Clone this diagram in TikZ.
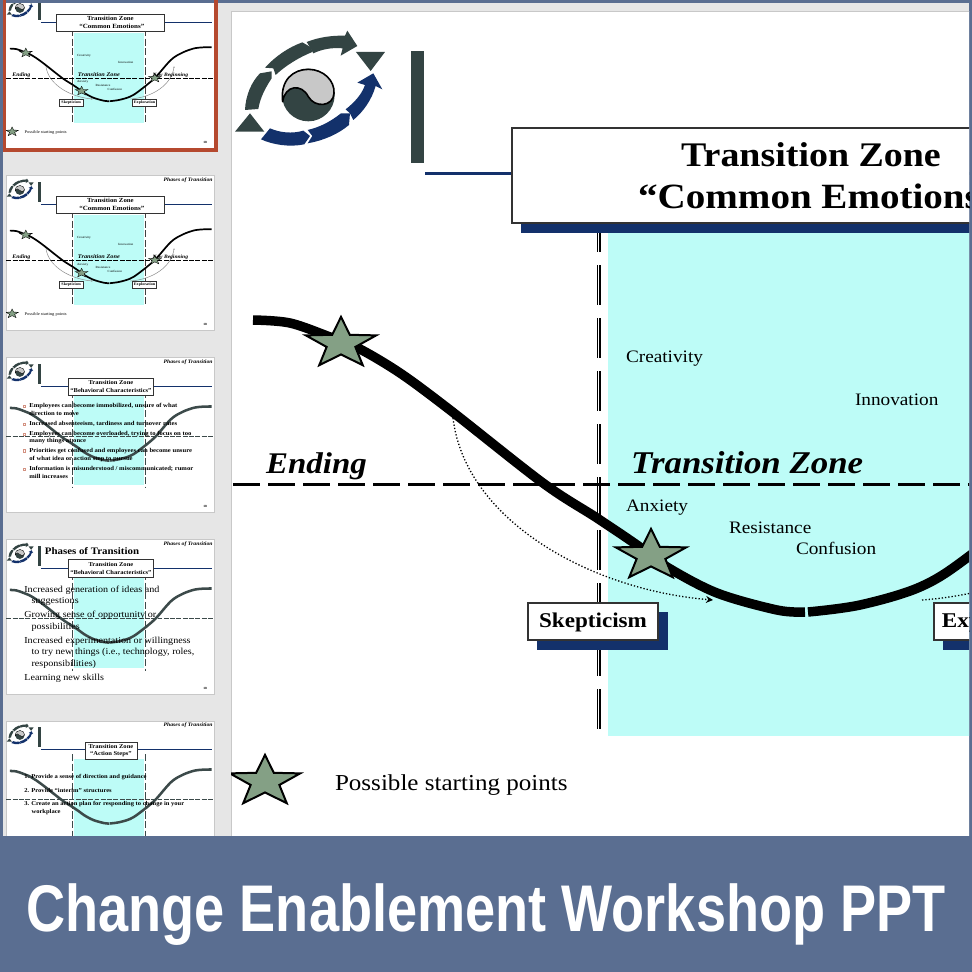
\documentclass[tikz,border=0pt]{standalone}
\usepackage{fontspec}
\setmainfont[FakeStretch=1.1]{Liberation Serif}
\newfontfamily\banfont{Liberation Sans}
\usetikzlibrary{arrows.meta,shapes.geometric}
\definecolor{navyc}{HTML}{13316B}
\definecolor{darkc}{HTML}{334443}
\definecolor{cyanc}{HTML}{BDFCF7}
\definecolor{starc}{HTML}{84A085}
\definecolor{blueb}{HTML}{5A6E91}
\definecolor{sidec}{HTML}{E6E6E6}
\definecolor{redc}{HTML}{B5492F}
\definecolor{edgec}{HTML}{C8C8C8}
\definecolor{greyc}{HTML}{3C4A4A}
\newif\ifbigslide
\def\lw{1}
\def\da{27pt}\def\db{8pt}\def\dc{40pt}\def\dd{13pt}
\tikzset{
  x=1pt,y=-1pt,
  txt/.style={anchor=base west,inner sep=0pt,outer sep=0pt,text=black},
  titlebox/.style={draw=black!80,line width=\lw*2pt,fill=white},
  startstar/.style={star,star points=5,star point ratio=2.45,minimum size=74pt,inner sep=0pt,draw=black,line width=\lw*2pt,fill=starc,yscale=0.72},
  dotarrow/.style={line width=1.3pt,dotted,black,-{Stealth[length=7pt,width=7pt]}},
  zoneedge/.style={line width=1.2pt,double distance=1.6pt,dash pattern=on \dc off \dd},
  smallbox/.style={titlebox,minimum height=37pt,inner sep=0pt,text height=12pt,text depth=0pt,font=\bfseries\fontsize{21}{21}\selectfont},
}
% logo and header rule, in slide coordinates
\newcommand{\slidelogo}{%
  \begin{scope}[shift={(-6,-1)},scale=0.3333]
    \fill[darkc] (245,96) .. controls (280,82) and (320,76) .. (360,77) -- (367,62) -- (397,108) -- (347,137) -- (353,115) .. controls (320,112) and (290,118) .. (265,130) -- (255,112) -- cycle;
    \fill[darkc] (120,173) .. controls (150,140) and (190,112) .. (232,97) -- (258,112) -- (262,126) .. controls (222,142) and (180,168) .. (152,195) -- (145,175) -- cycle;
    \fill[darkc] (60,300) .. controls (62,255) and (80,215) .. (105,190) -- (140,184) -- (140,205) .. controls (120,235) and (105,265) .. (100,297) -- cycle;
    \fill[darkc] (30,365) -- (75,310) -- (118,365) -- cycle;
    \fill[darkc] (393,126) -- (480,126) -- (437,183) -- cycle;
    \fill[navyc] (397,218) -- (445,190) -- (472,238) -- (452,228) .. controls (440,270) and (415,305) .. (385,330) -- (375,310) -- (362,298) .. controls (385,280) and (410,255) .. (420,225) -- cycle;
    \fill[navyc] (248,360) .. controls (290,350) and (320,332) .. (348,310) -- (375,310) -- (372,345) .. controls (340,372) and (295,392) .. (248,400) -- (262,378) -- cycle;
    \fill[navyc] (135,355) .. controls (165,368) and (200,372) .. (235,362) -- (255,378) -- (238,403) .. controls (195,412) and (145,405) .. (108,388) -- cycle;
    \fill[darkc] (250,255) circle[radius=79];
    \fill[edgec] (173,275) .. controls (165,210) and (205,178) .. (250,178) .. controls (295,178) and (330,212) .. (327,250) .. controls (325,290) and (270,295) .. (250,260) .. controls (230,220) and (180,225) .. (173,275) -- cycle;
    \draw[black,line width=\lw*1.6pt,line cap=round] (173,275) .. controls (165,210) and (205,178) .. (250,178) .. controls (295,178) and (330,212) .. (327,250) .. controls (325,290) and (270,295) .. (250,260) .. controls (230,220) and (180,225) .. (173,275);
  \end{scope}
  \fill[darkc] (180,40) rectangle (193,152);
}
\newcommand{\hrulenavy}{\draw[navyc,line width=\lw*3pt] (194,162) -- (1143,162);}
\newcommand{\maincurve}[2]{%
  \draw[#1,line width=#2] plot[smooth,tension=0.55] coordinates {(22,309+\cy) (59,312+\cy) (99,326+\cy) (127,337+\cy) (169,362+\cy) (219,399+\cy) (312,472+\cy) (366,507+\cy) (406,534+\cy) (436,556+\cy) (486,582+\cy) (546,599+\cy) (574,601+\cy)};
  \draw[#1,line width=#2] plot[smooth,tension=0.55] coordinates {(577,601+\cy) (629,594+\cy) (689,576+\cy) (737,546+\cy) (827,472+\cy) (929,361+\cy) (1040,309+\cy) (1143,301+\cy)};
}
\def\cy{0}
\newcommand{\pagehead}{\node[txt,font=\bfseries\itshape\fontsize{29}{29}\selectfont] (h\pfx) at (876,36) {Phases of Transition};}
\newcommand{\pagenum}{\node[txt,font=\bfseries\fontsize{18}{18}\selectfont] (p\pfx) at (1096,838) {18};}
% the "Common Emotions" slide
\newcommand{\emotionslide}{%
  \fill[cyanc] (377,222) rectangle (767,725);
  \draw[zoneedge] (367.5,201) -- (367.5,718);
  \draw[zoneedge] (773,201) -- (773,718);
  \draw[black,line width=\lw*3pt,dash pattern=on \da off \db] (2,473) -- (1154,473);
  \hrulenavy
  \ifbigslide\fill[navyc] (290,211) rectangle (900,222);\fi
  \node[titlebox,minimum width=600pt,minimum height=95pt,inner sep=0pt] (t\pfx) at (581,164) {};
  \node[font=\bfseries\fontsize{34.5}{34.5}\selectfont,inner sep=0pt,anchor=base] (ta\pfx) at (580,155) {Transition Zone};
  \node[font=\bfseries\fontsize{35.5}{35.5}\selectfont,inner sep=0pt,anchor=base west] (tb\pfx) at (407,197) {“Common Emotions”};
  \coordinate (da\pfx) at (222,407);
  \coordinate (db\pfx) at (482,589);
  \coordinate (dc\pfx) at (691,589);
  \coordinate (dd\pfx) at (934,407);
  \draw[dotarrow] (da\pfx) .. controls (234,509) and (359,579) .. (db\pfx);
  \draw[dotarrow] (dc\pfx) .. controls (815,580) and (920,510) .. (dd\pfx);
  \maincurve{black}{\lw*9.5pt}
  \node[startstar] (sa\pfx) at (110,332.6) {};
  \node[startstar] (sb\pfx) at (420,544.6) {};
  \node[startstar] (sc\pfx) at (827,472) {};
  \node[startstar] (sd\pfx) at (34,770.6) {};
  \ifbigslide
    \fill[navyc] (306,601) rectangle (437,639);
    \fill[navyc] (712,601) rectangle (846,639);
  \fi
  \node[smallbox,minimum width=130pt] (bs\pfx) at (362,610.5) {Skepticism};
  \node[smallbox,minimum width=134pt] (be\pfx) at (770,610.5) {Exploration};
  \node[txt,font=\fontsize{17.5}{17.5}\selectfont] (c1\pfx) at (395,351) {Creativity};
  \node[txt,font=\fontsize{17.5}{17.5}\selectfont] (c2\pfx) at (624,394) {Innovation};
  \node[txt,font=\fontsize{17.5}{17.5}\selectfont] (c3\pfx) at (395,500) {Anxiety};
  \node[txt,font=\fontsize{17.5}{17.5}\selectfont] (c4\pfx) at (498,522) {Resistance};
  \node[txt,font=\fontsize{17.5}{17.5}\selectfont] (c5\pfx) at (565,543) {Confusion};
  \node[txt,font=\bfseries\itshape\fontsize{30}{30}\selectfont] (l1\pfx) at (35,462) {Ending};
  \node[txt,font=\bfseries\itshape\fontsize{31.7}{31.7}\selectfont] (l2\pfx) at (400,462) {Transition Zone};
  \node[txt,font=\bfseries\itshape\fontsize{28}{28}\selectfont] (l3\pfx) at (814,462) {New Beginning};
  \node[txt,font=\fontsize{22.8}{22.8}\selectfont] (ls\pfx) at (104,779) {Possible starting points};
  \slidelogo
}
% background shared by the last three thumbnails
\newcommand{\greybase}[1]{%
  \fill[cyanc] (380,215) rectangle (767,#1);
  \draw[greyc,line width=\lw*4pt,dash pattern=on \da off \db] (2,440) -- (1154,440);
  \draw[greyc,line width=\lw*4pt,dash pattern=on \dc off \dd] (367.5,190) -- (367.5,#1+15);
  \draw[greyc,line width=\lw*4pt,dash pattern=on \dc off \dd] (773,190) -- (773,#1+15);
  \def\cy{-26}
  \maincurve{greyc}{\lw*14pt}
  \def\cy{0}
  \hrulenavy
  \slidelogo
  \pagehead
}
\newcommand{\tline}[4]{\node[txt,font=\bfseries\fontsize{#1}{#1}\selectfont] (#4\pfx) at #2 {#3};}
\newcommand{\bulletbox}[2]{\node[draw=redc!60,line width=\lw*3pt,fill=none,minimum size=13pt,inner sep=0pt] (#2\pfx) at #1 {};}
\newcommand{\twotitle}[5]{%
  \node[titlebox,minimum width=#1,minimum height=#2,inner sep=0pt,align=center,font=\bfseries\fontsize{33}{44}\selectfont] (tt\pfx) at #3 {#4\\#5};
}
\begin{document}
\begin{tikzpicture}
\useasboundingbox (0,0) rectangle (972,972);
\fill[blueb] (0,0) rectangle (972,972);
\fill[sidec] (3,3) rectangle (969,836);
% main slide
\begin{scope}
  \clip (231,11) rectangle (969,836);
  \fill[white,draw=edgec,line width=1pt] (231,11) rectangle (1400,900);
  \begin{scope}[shift={(231,11)}]
    \bigslidetrue\def\lw{1}\def\pfx{m}
    \emotionslide
  \end{scope}
\end{scope}
\bigslidefalse\def\lw{0.18}
\def\da{4.86pt}\def\db{1.44pt}\def\dc{7.2pt}\def\dd{2.34pt}
\tikzset{
  dotarrow/.style={line width=0.5pt,black!45,-{Stealth[length=1.5pt,width=1.5pt]}},
  zoneedge/.style={line width=0.7pt,black!75,dash pattern=on \dc off \dd},
}
% thumbnail 1 (selected)
\draw[redc,line width=3.5pt] (4.5,-5) rectangle (216,150);
\begin{scope}
  \clip (6,3) rectangle (214,148);
  \fill[white] (6,0) rectangle (214,148);
  \begin{scope}[shift={(6,-7)},scale=0.18,transform shape]
    \def\pfx{a}\emotionslide\pagenum
  \end{scope}
\end{scope}
% thumbnail 2
\begin{scope}
  \fill[white,draw=edgec,line width=1pt] (6,175) rectangle (214,330);
  \clip (6,175) rectangle (214,330);
  \begin{scope}[shift={(6,175)},scale=0.18,transform shape]
    \def\pfx{b}\emotionslide\pagenum\pagehead
  \end{scope}
\end{scope}
% thumbnail 3
\begin{scope}
  \fill[white,draw=edgec,line width=1pt] (6,357) rectangle (214,512);
  \clip (6,357) rectangle (214,512);
  \begin{scope}[shift={(6,357)},scale=0.18,transform shape]
    \def\pfx{c}\greybase{712}\pagenum
    \twotitle{474pt}{98pt}{(583,164)}{Transition Zone}{“Behavioral Characteristics”}
    \bulletbox{(100,274)}{ba}\bulletbox{(100,373)}{bb}\bulletbox{(100,429)}{bc}\bulletbox{(100,521)}{bd}\bulletbox{(100,623)}{be}
    \tline{33.6}{(130,282)}{Employees can become immobilized, unsure of what}{a}
    \tline{33.6}{(130,326)}{direction to move}{b}
    \tline{33.6}{(130,381)}{Increased absenteeism, tardiness and turnover rates}{d}
    \tline{33.6}{(130,437)}{Employees can become overloaded, trying to focus on too}{e}
    \tline{33.6}{(130,474)}{many things at once}{f}
    \tline{33.6}{(130,529)}{Priorities get confused and employees can become unsure}{g}
    \tline{33.6}{(130,574)}{of what idea or action step to pursue}{i}
    \tline{33.6}{(130,631)}{Information is misunderstood / miscommunicated; rumor}{j}
    \tline{33.6}{(130,676)}{mill increases}{k}
  \end{scope}
\end{scope}
% thumbnail 4
\begin{scope}
  \fill[white,draw=edgec,line width=1pt] (6,539) rectangle (214,694);
  \clip (6,539) rectangle (214,694);
  \begin{scope}[shift={(6,539)},scale=0.18,transform shape]
    \def\pfx{d}\greybase{716}\pagenum
    \twotitle{474pt}{96pt}{(583,162)}{Transition Zone}{“Behavioral Characteristics”}
    \tline{55}{(216,87)}{Phases of Transition}{n}
    \node[txt,font=\fontsize{51}{51}\selectfont] (a\pfx) at (102,298) {Increased generation of ideas and};
    \node[txt,font=\fontsize{51}{51}\selectfont] (b\pfx) at (142,361) {suggestions};
    \node[txt,font=\fontsize{51}{51}\selectfont] (e\pfx) at (102,436) {Growing sense of opportunity or};
    \node[txt,font=\fontsize{51}{51}\selectfont] (f\pfx) at (142,503) {possibilities};
    \node[txt,font=\fontsize{51}{51}\selectfont] (g\pfx) at (102,581) {Increased experimentation or willingness};
    \node[txt,font=\fontsize{51}{51}\selectfont] (i\pfx) at (142,642) {to try new things (i.e., technology, roles,};
    \node[txt,font=\fontsize{51}{51}\selectfont] (j\pfx) at (142,708) {responsibilities)};
    \node[txt,font=\fontsize{51}{51}\selectfont] (k\pfx) at (102,786) {Learning new skills};
  \end{scope}
\end{scope}
% thumbnail 5
\begin{scope}
  \fill[white,draw=edgec,line width=1pt] (6,721) rectangle (214,900);
  \clip (6,721) rectangle (214,836);
  \begin{scope}[shift={(6,720)},scale=0.18,transform shape]
    \def\pfx{e}\greybase{760}
    \twotitle{291pt}{91pt}{(583,170)}{Transition Zone}{“Action Steps”}
    \tline{33}{(102,327)}{1. Provide a sense of direction and guidance}{a}
    \tline{33}{(102,400)}{2. Provide “interim” structures}{b}
    \tline{33}{(102,477)}{3. Create an action plan for responding to change in your}{d}
    \tline{33}{(142,522)}{workplace}{f}
  \end{scope}
\end{scope}
\fill[blueb] (0,836) rectangle (972,972);
\node[anchor=base,inner sep=0pt,text=white,font=\banfont\bfseries\fontsize{66}{66}\selectfont,xscale=0.82] (banner) at (486,931) {Change Enablement Workshop PPT};
\end{tikzpicture}
\end{document}
